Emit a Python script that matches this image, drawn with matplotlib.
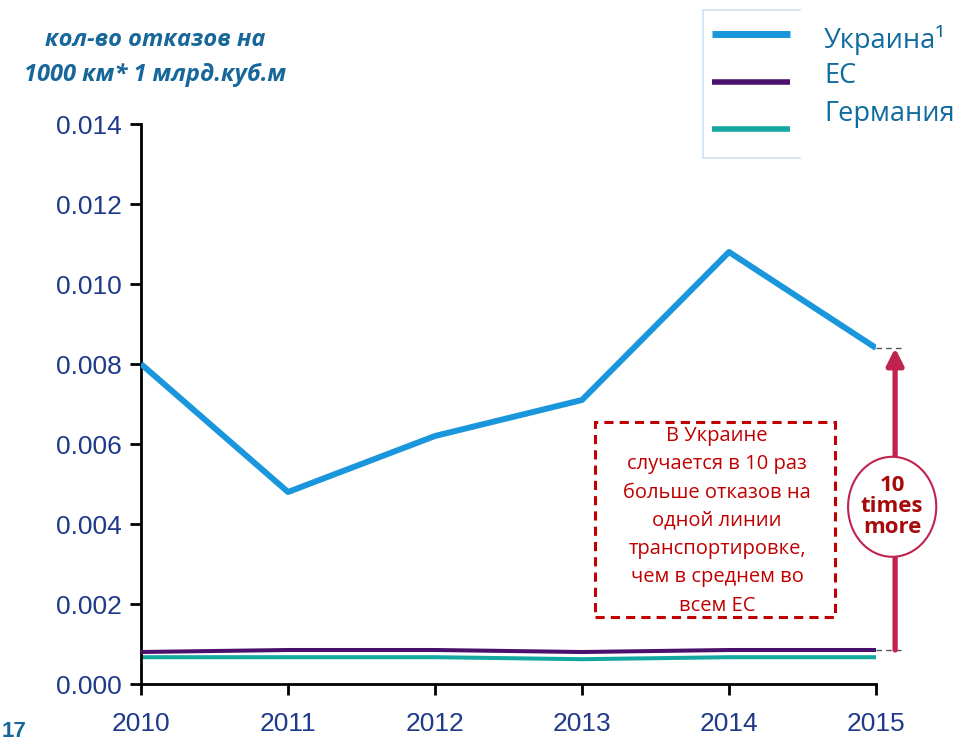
import matplotlib

matplotlib.use("Agg")
import matplotlib.pyplot as plt
from matplotlib.lines import Line2D
from matplotlib.patches import Rectangle, Ellipse

# data
years = [2010, 2011, 2012, 2013, 2014, 2015]
ukraine = [0.0080, 0.0048, 0.0062, 0.0071, 0.0108, 0.0084]
eu = [0.00080, 0.00085, 0.00085, 0.00080, 0.00085, 0.00085]
germany = [0.00067, 0.00067, 0.00067, 0.00062, 0.00067, 0.00067]
y_ticks = [0.0, 0.002, 0.004, 0.006, 0.008, 0.010, 0.012, 0.014]
series_labels = ["Украина¹", "ЕС", "Германия"]

BLUE = "#1a96dc"
PURPLE = "#4a116c"
TEAL = "#14a79f"
NAVY = "#1f3a8a"
TITLE = "#17679a"
RED = "#c00000"
CRIMSON = "#c0234e"

FONT = ["Open Sans", "DejaVu Sans"]

W, H = 974, 743
fig = plt.figure(figsize=(W / 100, H / 100), dpi=100)
ax = fig.add_axes([141 / W, 1 - 684 / H, (876 - 141) / W, (684 - 124) / H])

ax.plot(years, ukraine, color=BLUE, lw=4.3, solid_capstyle="butt", zorder=3)
ax.plot(years, eu, color=PURPLE, lw=2.9, solid_capstyle="butt", zorder=3)
ax.plot(years, germany, color=TEAL, lw=2.9, solid_capstyle="butt", zorder=2)

ax.set_xlim(2010, 2015)
ax.set_ylim(0, 0.014)
ax.set_xticks(years)
ax.set_yticks(y_ticks)
ax.set_yticklabels([f"{v:.3f}" for v in y_ticks])
for s in ("top", "right"):
    ax.spines[s].set_visible(False)
for s in ("left", "bottom"):
    ax.spines[s].set_linewidth(2)
    ax.spines[s].set_color("black")
ax.tick_params(axis="both", direction="out", length=8, width=2,
               colors="black", labelcolor=NAVY, labelsize=19)
ax.tick_params(axis="x", pad=12)
ax.tick_params(axis="y", pad=6)
for lab in ax.get_xticklabels() + ax.get_yticklabels():
    lab.set_family("Liberation Sans")

# y-axis caption
fig.text(155 / W, 1 - 40 / H, "кол-во отказов на", ha="center", va="center",
         color=TITLE, fontsize=17, fontweight="bold", style="italic",
         family=FONT)
fig.text(155 / W, 1 - 75 / H, "1000 км* 1 млрд.куб.м", ha="center",
         va="center", color=TITLE, fontsize=17, fontweight="bold",
         style="italic", family=FONT)

# page number in the bottom-left corner
fig.text(2 / W, 1 - 742 / H, "17", ha="left", va="bottom", color=TITLE,
         fontsize=16, fontweight="bold", family="Liberation Sans")

# legend drawn by hand
box_col = "#cfe2f6"
fig.add_artist(Line2D([703 / W, 703 / W], [1 - 10 / H, 1 - 158 / H],
                      color=box_col, lw=1.2))
fig.add_artist(Line2D([703 / W, 800 / W], [1 - 10 / H, 1 - 10 / H],
                      color=box_col, lw=1.2))
fig.add_artist(Line2D([703 / W, 800 / W], [1 - 158 / H, 1 - 158 / H],
                      color=box_col, lw=1.2))
for yl, col, lw in [(34, BLUE, 5), (82, PURPLE, 4), (129, TEAL, 4)]:
    fig.add_artist(Line2D([712 / W, 790 / W], [1 - yl / H, 1 - yl / H],
                          color=col, lw=lw, solid_capstyle="butt"))
for yt, txt in zip([40, 76, 114], series_labels):
    fig.text(824 / W, 1 - yt / H, txt, ha="left", va="center",
             color="#0f6a9e", fontsize=19.5, family=FONT)

# dashed note box
ax.add_patch(Rectangle((2013.09, 0.00168), 1.633, 0.00488, fill=False,
                       ec=RED, lw=2.2, ls=(0, (3, 2)), zorder=5))
note = ("В Украине\nслучается в 10 раз\nбольше отказов на\nодной линии\n"
        "транспортировке,\nчем в среднем во\nвсем ЕС")
ax.text(2013.918, 0.00408, note, ha="center", va="center", color=RED,
        fontsize=14.5, family=FONT, linespacing=1.55, zorder=6)

# "10 times more" arrow
xa = 2015.13
ax.plot([2015, 2015.2], [ukraine[-1], ukraine[-1]], color="#555555",
        lw=1, ls=(0, (4, 3)), clip_on=False)
ax.plot([2015, 2015.2], [eu[-1], eu[-1]], color="#555555",
        lw=1, ls=(0, (4, 3)), clip_on=False)
ax.annotate("", xy=(xa, ukraine[-1]), xytext=(xa, eu[-1]),
            arrowprops=dict(arrowstyle="-|>,head_length=1.0,head_width=0.5",
                            color=CRIMSON, lw=3.8, shrinkA=0, shrinkB=0),
            annotation_clip=False, zorder=6)
ax.add_patch(Ellipse((2015.11, 0.00443), 0.60, 0.0025, fc="white",
                     ec=CRIMSON, lw=1.5, clip_on=False, zorder=7))
ax.text(2015.11, 0.00443, "10\ntimes\nmore", ha="center", va="center",
        color="#a60a0a", fontsize=16, fontweight="bold", family=FONT,
        linespacing=1.0, zorder=8, clip_on=False)

fig.savefig("out.png", dpi=100)
